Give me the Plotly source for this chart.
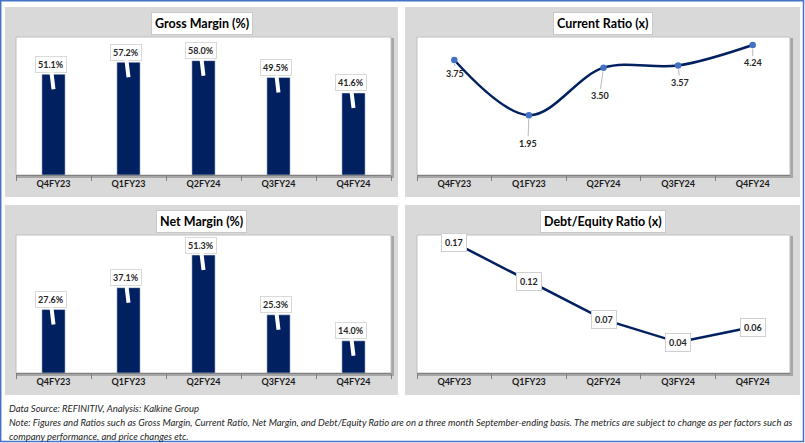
import plotly.graph_objects as go

categories = ["Q4FY23", "Q1FY23", "Q2FY24", "Q3FY24", "Q4FY24"]
gross_margin = [51.1, 57.2, 58.0, 49.5, 41.6]
current_ratio = [3.75, 1.95, 3.50, 3.57, 4.24]
net_margin = [27.6, 37.1, 51.3, 25.3, 14.0]
debt_equity = [0.17, 0.12, 0.07, 0.04, 0.06]

titles = ["Gross Margin (%)", "Current Ratio (x)", "Net Margin (%)", "Debt/Equity Ratio (x)"]
footer_lines = [
    "Data Source: REFINITIV, Analysis: Kalkine Group",
    "Note: Figures and Ratios such as Gross Margin, Current Ratio, Net Margin, and Debt/Equity Ratio are on a three month September-ending basis. The metrics are subject to change as per factors such as",
    "company performance, and price changes etc.",
]

# label offsets (pixels) for the current ratio labels relative to their points
cr_label_dx = [1, -1, -4, 2, 0]
cr_label_dy = [13, 28, 28, 17, 18]

W, H = 805, 443
NAVY = "#002060"
FONT = "Lato"


def fx(px):
    return px / W


def fy(py):
    return 1 - py / H


# panel geometry in pixels: (grey box), (plot area)
panels = [
    dict(grey=(5, 7, 398, 197), plot=(16, 37, 391, 175), title_y=23),
    dict(grey=(405, 7, 800, 197), plot=(417, 37, 790, 175), title_y=23),
    dict(grey=(5, 205, 398, 395), plot=(16, 235, 391, 373), title_y=221),
    dict(grey=(405, 205, 800, 395), plot=(417, 235, 790, 373), title_y=221),
]

fig = go.Figure()

# traces
fig.add_trace(go.Bar(x=categories, y=gross_margin, marker_color=NAVY, width=0.31,
                     xaxis="x", yaxis="y", hoverinfo="skip"))
fig.add_trace(go.Scatter(x=categories, y=current_ratio, mode="lines+markers",
                         line=dict(color=NAVY, width=2.5, shape="spline", smoothing=1.0),
                         marker=dict(color="#4472c4", size=6.5),
                         xaxis="x2", yaxis="y2", hoverinfo="skip"))
fig.add_trace(go.Bar(x=categories, y=net_margin, marker_color=NAVY, width=0.31,
                     xaxis="x3", yaxis="y3", hoverinfo="skip"))
fig.add_trace(go.Scatter(x=categories, y=debt_equity, mode="lines",
                         line=dict(color=NAVY, width=2.5),
                         xaxis="x4", yaxis="y4", hoverinfo="skip"))

yranges = [[0, 70], [0, 4.5], [0, 60], [0, 0.18]]

layout = dict(
    width=W, height=H,
    margin=dict(l=0, r=0, t=0, b=0),
    paper_bgcolor="white",
    plot_bgcolor="rgba(0,0,0,0)",
    showlegend=False,
    font=dict(family=FONT, color="#262626"),
)

shapes = []
annotations = []

for i, p in enumerate(panels):
    sfx = "" if i == 0 else str(i + 1)
    gx0, gy0, gx1, gy1 = p["grey"]
    px0, py0, px1, py1 = p["plot"]
    shapes.append(dict(type="rect", xref="paper", yref="paper", layer="below",
                       x0=fx(gx0), x1=fx(gx1), y0=fy(gy1), y1=fy(gy0),
                       fillcolor="#d9d9d9", line=dict(width=0)))
    # plot area shadow + white area
    shapes.append(dict(type="rect", xref="paper", yref="paper", layer="below",
                       x0=fx(px0 + 1), x1=fx(px1 + 3), y0=fy(py1 + 3), y1=fy(py0 + 1),
                       fillcolor="#a6a6a6", line=dict(width=0)))
    shapes.append(dict(type="rect", xref="paper", yref="paper", layer="below",
                       x0=fx(px0), x1=fx(px1), y0=fy(py1), y1=fy(py0),
                       fillcolor="white", line=dict(color="#bfbfbf", width=1)))
    layout["xaxis" + sfx] = dict(
        domain=[fx(px0), fx(px1)], anchor="y" + sfx,
        type="category", range=[-0.5, 4.5],
        showline=True, linecolor="#808080", linewidth=1,
        ticks="outside", tickson="boundaries", ticklen=5, tickcolor="#808080",
        showgrid=False, zeroline=False,
        tickfont=dict(family=FONT, size=9, color="#1a1a1a", weight="bold"),
        fixedrange=True,
    )
    layout["yaxis" + sfx] = dict(
        domain=[fy(py1), fy(py0)], anchor="x" + sfx,
        range=yranges[i], visible=False, showgrid=False, zeroline=False,
        fixedrange=True,
    )
    # title
    annotations.append(dict(
        xref="paper", yref="paper", x=fx((gx0 + gx1) / 2), y=fy(p["title_y"]),
        xanchor="center", yanchor="middle", showarrow=False,
        text="<b>" + titles[i] + "</b>",
        font=dict(family=FONT, size=12.5, color="black"),
        bgcolor="white", bordercolor="#c8c8c8", borderwidth=1, borderpad=3,
    ))

# bar data labels with callout pointers
for sfx, vals in [("", gross_margin), ("3", net_margin)]:
    for c, v in zip(categories, vals):
        annotations.append(dict(
            xref="x" + sfx, yref="y" + sfx, x=c, y=v,
            text="<b>%.1f%%</b>" % v, yshift=-15, ax=-3, ay=-25,
            showarrow=True, arrowhead=0, arrowwidth=4, arrowcolor="white",
            font=dict(family=FONT, size=9, color="#262626"),
            bgcolor="white", bordercolor="#d9d9d9", borderwidth=1, borderpad=2,
        ))

# current ratio labels with leader lines
for c, v, dx, dy in zip(categories, current_ratio, cr_label_dx, cr_label_dy):
    annotations.append(dict(
        xref="x2", yref="y2", x=c, y=v,
        text="<b>%.2f</b>" % v, ax=dx, ay=dy, standoff=4,
        showarrow=True, arrowhead=0, arrowwidth=0.8, arrowcolor="#a6a6a6",
        font=dict(family=FONT, size=9, color="#262626"),
    ))

# debt/equity labels centred on points
for c, v in zip(categories, debt_equity):
    annotations.append(dict(
        xref="x4", yref="y4", x=c, y=v,
        text="<b>%.2f</b>" % v, showarrow=False,
        font=dict(family=FONT, size=9, color="#262626"),
        bgcolor="white", bordercolor="#d0d0d0", borderwidth=1, borderpad=3,
    ))

# footer
for line, py in zip(footer_lines, [408, 422, 436]):
    annotations.append(dict(
        xref="paper", yref="paper", x=fx(7), y=fy(py),
        xanchor="left", yanchor="middle", showarrow=False, text=line,
        font=dict(family=FONT, size=9.5, color="#262626", style="italic"),
    ))

# outer blue border
shapes.append(dict(type="rect", xref="paper", yref="paper", layer="above",
                   x0=fx(0.7), x1=fx(W - 1.5), y0=fy(H - 1.5), y1=fy(0.7),
                   line=dict(color="#4472c4", width=1.5)))

layout["shapes"] = shapes
layout["annotations"] = annotations
fig.update_layout(**layout)

fig.write_html("out.html",
               config={"displayModeBar": False},
               post_script="document.body.style.margin='0';document.body.style.overflow='hidden';")
